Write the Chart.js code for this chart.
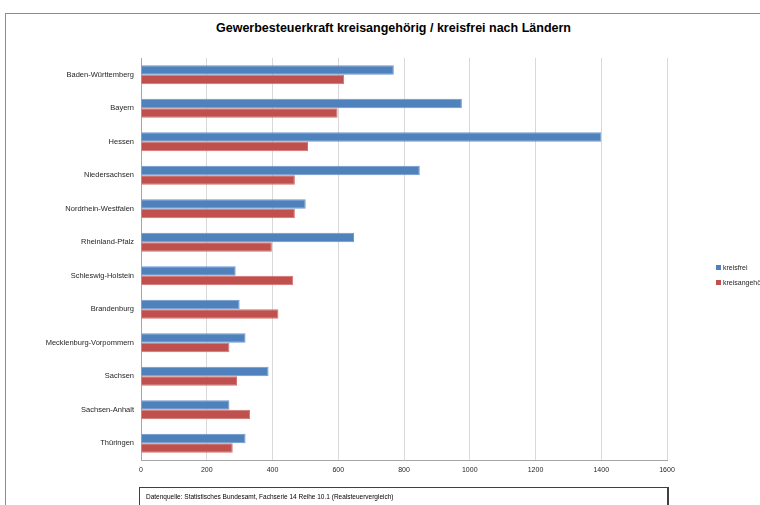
<!DOCTYPE html>
<html>
<head>
<meta charset="utf-8">
<script src="https://cdn.jsdelivr.net/npm/chart.js@4/dist/chart.umd.min.js"></script>
<style>
    html, body { margin: 0; padding: 0; background: #fff; }
    #wrap { position: relative; width: 760px; height: 505px; overflow: hidden; }
    #frame { position: absolute; left: 5px; top: 13px; width: 800px; height: 600px; border: 1px solid #8c8c8c; box-sizing: border-box; }
    #title { position: absolute; left: 216px; top: 20px; white-space: nowrap; transform-origin: 0 0;
        font: bold 13px 'Liberation Sans', Arial, sans-serif; color: #000; }
    #source { position: absolute; left: 139px; top: 487px; width: 530px; height: 30px; box-sizing: border-box;
        border: 1px solid #404040; border-right-width: 2px; padding: 5px 0 0 6px; white-space: nowrap;
        font: 6.5px 'Liberation Sans', Arial, sans-serif; color: #000; }
    canvas { position: absolute; left: 0; top: 0; }
</style>
</head>
<body>
<div id="wrap">
    <div id="frame"></div>
    <div id="title">Gewerbesteuerkraft kreisangehörig / kreisfrei nach Ländern</div>
    <canvas id="chart" width="760" height="505"></canvas>
    <div id="source">Datenquelle: Statistisches Bundesamt, Fachserie 14 Reihe 10.1 (Realsteuervergleich)</div>
</div>
<script>
    const laender = [
        'Baden-Württemberg', 'Bayern', 'Hessen', 'Niedersachsen', 'Nordrhein-Westfalen',
        'Rheinland-Pfalz', 'Schleswig-Holstein', 'Brandenburg', 'Mecklenburg-Vorpommern',
        'Sachsen', 'Sachsen-Anhalt', 'Thüringen'
    ];
    const kreisfrei = [769, 976, 1400, 848, 501, 648, 288, 300, 318, 388, 269, 318];
    const kreisangehoerig = [618, 598, 508, 468, 468, 398, 463, 418, 269, 292, 332, 279];
    const xTicks = [0, 200, 400, 600, 800, 1000, 1200, 1400, 1600];

    const fontFamily = "'Liberation Sans', Arial, sans-serif";

    const colors = {
        blue: '#4F81BD',
        blueEdge: '#6E98CC',
        red: '#C0504D',
        redEdge: '#CF716E',
        grid: '#D9D9D9',
        axis: '#A6A6A6',
        text: '#262626'
    };

    // Calibri is narrow, squeeze the title to the original width
    const titleEl = document.getElementById('title');
    const titleWidth = titleEl.getBoundingClientRect().width;
    titleEl.style.transform = 'scaleX(' + (355 / titleWidth) + ')';

    // legend drawn on the right like the Excel original (partly cut off)
    const sideLegend = {
        id: 'sideLegend',
        afterDraw(chart) {
            const ctx = chart.ctx;
            ctx.save();
            ctx.font = '7px ' + fontFamily;
            ctx.textBaseline = 'middle';
            chart.data.datasets.forEach((ds, i) => {
                const y = 268 + i * 15;
                ctx.fillStyle = ds.backgroundColor;
                ctx.fillRect(716, y - 3, 5, 5);
                ctx.fillStyle = colors.text;
                ctx.fillText(ds.label, 723, y);
            });
            ctx.restore();
        }
    };

    new Chart(document.getElementById('chart').getContext('2d'), {
        type: 'bar',
        data: {
            labels: laender,
            datasets: [
                {
                    label: 'kreisfrei',
                    data: kreisfrei,
                    backgroundColor: colors.blue,
                    borderColor: colors.blueEdge,
                    borderWidth: 1,
                    categoryPercentage: 0.57,
                    barPercentage: 1.0
                },
                {
                    label: 'kreisangehörig',
                    data: kreisangehoerig,
                    backgroundColor: colors.red,
                    borderColor: colors.redEdge,
                    borderWidth: 1,
                    categoryPercentage: 0.57,
                    barPercentage: 1.0
                }
            ]
        },
        options: {
            indexAxis: 'y',
            responsive: false,
            animation: false,
            layout: { padding: { left: 5, right: 93, top: 58, bottom: 24 } },
            plugins: {
                legend: { display: false },
                title: { display: false },
                tooltip: { enabled: false }
            },
            scales: {
                x: {
                    min: 0,
                    max: 1600,
                    afterBuildTicks(scale) {
                        scale.ticks = xTicks.map((v) => ({ value: v }));
                    },
                    afterFit(scale) { scale.height = 21; },
                    grid: { color: colors.grid, drawTicks: false },
                    border: { color: colors.axis },
                    ticks: {
                        padding: 6,
                        color: colors.text,
                        font: { family: fontFamily, size: 7 },
                        callback: (v) => String(v)
                    }
                },
                y: {
                    afterFit(scale) { scale.width = 136; },
                    grid: { display: false, drawTicks: false },
                    border: { color: colors.axis },
                    ticks: { padding: 7, color: colors.text, font: { family: fontFamily, size: 7.5 } }
                }
            }
        },
        plugins: [sideLegend]
    });
</script>
</body>
</html>
